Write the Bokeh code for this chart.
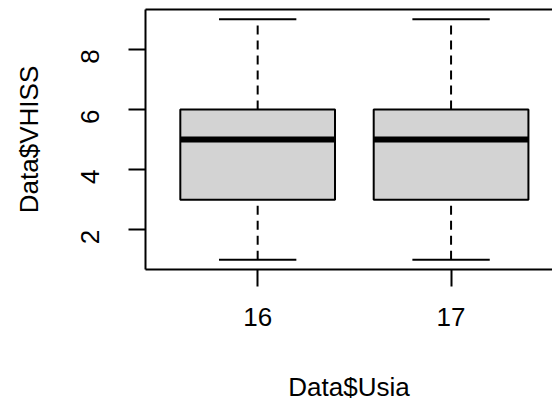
import math
from bokeh.plotting import figure
from bokeh.models import FixedTicker, LinearAxis, Range1d, ColumnDataSource
from bokeh.embed import file_html
from bokeh.resources import INLINE

# ---- data ----
groups = ["16", "17"]
whisker_low = [1, 1]
q1 = [3, 3]
median = [5, 5]
q3 = [6, 6]
whisker_high = [9, 9]
y_ticks = [2, 4, 6, 8]
x_title = "Data$Usia"
y_title = "Data$VHISS"

xs = [i + 1 for i in range(len(groups))]
box_w = 0.8
cap_w = 0.4

src = ColumnDataSource(dict(
    x=xs, lo=whisker_low, q1=q1, med=median, q3=q3, hi=whisker_high,
    left=[x - box_w / 2 for x in xs], right=[x + box_w / 2 for x in xs],
    cl=[x - cap_w / 2 for x in xs], cr=[x + cap_w / 2 for x in xs],
))

FONT = "Liberation Sans"
FS = "26px"

p = figure(width=552, height=404,
           x_range=Range1d(0.42, 2.5245), y_range=Range1d(0.68, 9.32),
           output_backend="svg", toolbar_location=None,
           x_axis_type=None, y_axis_type=None,
           min_border_left=145, min_border_right=0,
           min_border_top=9, min_border_bottom=134)
p.outline_line_color = None
p.background_fill_color = "white"
p.border_fill_color = "white"

# whiskers (dashed)
p.segment(x0="x", y0="q3", x1="x", y1="hi", source=src,
          line_color="black", line_width=2, line_dash="9 6")
p.segment(x0="x", y0="lo", x1="x", y1="q1", source=src,
          line_color="black", line_width=2, line_dash="9 6")
# caps
p.segment(x0="cl", y0="hi", x1="cr", y1="hi", source=src,
          line_color="black", line_width=2)
p.segment(x0="cl", y0="lo", x1="cr", y1="lo", source=src,
          line_color="black", line_width=2)
# boxes
p.vbar(x="x", width=box_w, bottom="q1", top="q3", source=src,
       fill_color="#D3D3D3", line_color="black", line_width=2)
# medians
p.segment(x0="left", y0="med", x1="right", y1="med", source=src,
          line_color="black", line_width=6, line_cap="butt")

def style_axis(ax):
    ax.axis_line_color = "black"
    ax.axis_line_width = 2
    ax.major_tick_line_color = "black"
    ax.major_tick_line_width = 2
    ax.major_tick_in = 0
    ax.major_tick_out = 17
    ax.minor_tick_line_color = None
    ax.major_label_text_font = FONT
    ax.major_label_text_font_size = FS
    ax.major_label_text_color = "black"
    ax.axis_label_text_font = FONT
    ax.axis_label_text_font_size = FS
    ax.axis_label_text_font_style = "normal"
    ax.axis_label_text_color = "black"

xaxis = LinearAxis(ticker=FixedTicker(ticks=xs),
                   major_label_overrides={x: g for x, g in zip(xs, groups)},
                   axis_label=x_title)
style_axis(xaxis)
xaxis.major_label_standoff = 21
xaxis.axis_label_standoff = 43
p.add_layout(xaxis, "below")

yaxis = LinearAxis(ticker=FixedTicker(ticks=y_ticks), axis_label=y_title)
style_axis(yaxis)
yaxis.major_label_orientation = math.pi / 2
yaxis.major_label_standoff = 38
yaxis.axis_label_standoff = 26
p.add_layout(yaxis, "left")

# top border line
top = LinearAxis(ticker=FixedTicker(ticks=[]))
top.axis_line_color = "black"
top.axis_line_width = 2
top.major_tick_in = 0
top.major_tick_out = 0
top.minor_tick_in = 0
top.minor_tick_out = 0
top.major_label_standoff = 0
top.major_label_text_font_size = "0px"
p.add_layout(top, "above")

open("out.html", "w").write(file_html(p, INLINE))
